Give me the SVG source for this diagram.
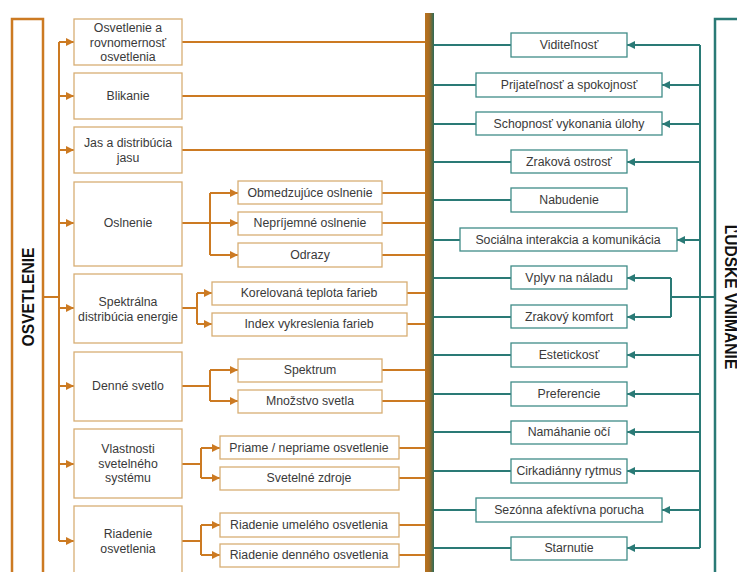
<svg xmlns="http://www.w3.org/2000/svg" width="737" height="572" viewBox="0 0 737 572">
<style>
text{font-family:"Liberation Sans",Arial,sans-serif;font-size:12.3px;fill:#3a3a3a;text-anchor:middle;dominant-baseline:central}
.ob{fill:#fff;stroke:#D8AE74;stroke-width:1.3}
.tb{fill:#fff;stroke:#3F8C88;stroke-width:1.3}
.oc{fill:none;stroke:#CC7A22;stroke-width:2}
.tc{fill:none;stroke:#2A7A76;stroke-width:2}
.oa{marker-end:url(#ao)}
.ta{marker-end:url(#at)}
.big{font-size:15.6px;font-weight:bold;fill:#111}
</style>
<defs>
<marker id="ao" markerUnits="userSpaceOnUse" markerWidth="9" markerHeight="10" refX="8" refY="5" orient="auto"><path d="M0,1 L8,5 L0,9 Z" fill="#CC7A22"/></marker>
<marker id="at" markerUnits="userSpaceOnUse" markerWidth="9" markerHeight="10" refX="8" refY="5" orient="auto"><path d="M0,1 L8,5 L0,9 Z" fill="#2A7A76"/></marker>
<linearGradient id="bar" x1="0" x2="1" y1="0" y2="0"><stop offset="0" stop-color="#B8721E"/><stop offset="0.45" stop-color="#A86C22"/><stop offset="1" stop-color="#2C6A58"/></linearGradient>
</defs>
<rect width="737" height="572" fill="#fff"/>
<g id="connectors">
<path class="oc" d="M43,297 H59 M59,42 V541"/>
<path class="oc oa" d="M59,42 H74"/>
<path class="oc oa" d="M59,96 H74"/>
<path class="oc oa" d="M59,150 H74"/>
<path class="oc oa" d="M59,223 H74"/>
<path class="oc oa" d="M59,308 H74"/>
<path class="oc oa" d="M59,386 H74"/>
<path class="oc oa" d="M59,464 H74"/>
<path class="oc oa" d="M59,541 H74"/>
<path class="oc" d="M182,42 H425 M182,96 H425 M182,150 H425"/>
<path class="oc" d="M182,223 H210 M210,193 V255"/>
<path class="oc oa" d="M210,193 H238"/>
<path class="oc oa" d="M210,223 H238"/>
<path class="oc oa" d="M210,255 H238"/>
<path class="oc" d="M382,193 H425 M382,223 H425 M382,255 H425"/>
<path class="oc" d="M182,308 H197 M197,293 V324"/>
<path class="oc oa" d="M197,293 H212"/>
<path class="oc oa" d="M197,324 H212"/>
<path class="oc" d="M407,293 H425 M407,324 H425"/>
<path class="oc" d="M182,386 H210 M210,370 V401"/>
<path class="oc oa" d="M210,370 H238"/>
<path class="oc oa" d="M210,401 H238"/>
<path class="oc" d="M382,370 H425 M382,401 H425"/>
<path class="oc" d="M182,464 H201 M201,448 V478"/>
<path class="oc oa" d="M201,448 H220"/>
<path class="oc oa" d="M201,478 H220"/>
<path class="oc" d="M399,448 H425 M399,478 H425"/>
<path class="oc" d="M182,541 H201 M201,525 V555"/>
<path class="oc oa" d="M201,525 H220"/>
<path class="oc oa" d="M201,555 H220"/>
<path class="oc" d="M399,525 H425 M399,555 H425"/>
<path class="tc" d="M434,45 H511 M434,85 H476 M434,124 H476 M434,162 H511 M434,200 H511 M434,240 H460 M434,278 H511 M434,317 H511 M434,355 H511 M434,394 H511 M434,432 H511 M434,471 H511 M434,510 H476 M434,548 H511"/>
<path class="tc" d="M715,297 H700 M700,45 V548"/>
<path class="tc ta" d="M700,45 H627"/>
<path class="tc ta" d="M700,85 H662"/>
<path class="tc ta" d="M700,124 H662"/>
<path class="tc ta" d="M700,162 H627"/>
<path class="tc ta" d="M700,240 H677"/>
<path class="tc" d="M700,297 H671 M671,278 V317"/>
<path class="tc ta" d="M671,278 H627"/>
<path class="tc ta" d="M671,317 H627"/>
<path class="tc ta" d="M700,355 H627"/>
<path class="tc ta" d="M700,394 H627"/>
<path class="tc ta" d="M700,432 H627"/>
<path class="tc ta" d="M700,471 H627"/>
<path class="tc ta" d="M700,510 H662"/>
<path class="tc ta" d="M700,548 H627"/>
</g>
<g id="bar"><rect x="425" y="13" width="9" height="560" fill="url(#bar)"/></g>
<g id="osvetlenie"><rect x="12" y="19" width="31" height="560" fill="#fff" stroke="#CC7A22" stroke-width="2.5"/><text class="big" transform="translate(28.5,297) rotate(-90)">OSVETLENIE</text></g>
<g id="ludske"><rect x="715" y="19" width="40" height="560" fill="#fff" stroke="#2A7A76" stroke-width="2.5"/><text class="big" transform="translate(730,297) rotate(90)">ĽUDSKE VNIMANIE</text></g>
<g id="n1"><rect class="ob" x="74" y="19" width="108" height="46"/><text x="128" y="28">Osvetlenie a</text><text x="128" y="43">rovnomernosť</text><text x="128" y="57">osvetlenia</text></g>
<g id="n2"><rect class="ob" x="74" y="73" width="108" height="46"/><text x="128" y="96">Blikanie</text></g>
<g id="n3"><rect class="ob" x="74" y="127" width="108" height="46"/><text x="128" y="143">Jas a distribúcia</text><text x="128" y="158">jasu</text></g>
<g id="n4"><rect class="ob" x="74" y="182" width="108" height="84"/><text x="128" y="223">Oslnenie</text></g>
<g id="n5"><rect class="ob" x="74" y="274" width="108" height="69"/><text x="128" y="302">Spektrálna</text><text x="128" y="317">distribúcia energie</text></g>
<g id="n6"><rect class="ob" x="74" y="352" width="108" height="69"/><text x="128" y="386">Denné svetlo</text></g>
<g id="n7"><rect class="ob" x="74" y="429" width="108" height="69"/><text x="128" y="449">Vlastnosti</text><text x="128" y="464">svetelného</text><text x="128" y="478">systému</text></g>
<g id="n8"><rect class="ob" x="74" y="506" width="108" height="72"/><text x="128" y="534">Riadenie</text><text x="128" y="549">osvetlenia</text></g>
<g id="s1"><rect class="ob" x="238" y="181" width="144" height="23"/><text x="310" y="193">Obmedzujúce oslnenie</text></g>
<g id="s2"><rect class="ob" x="238" y="212" width="144" height="23"/><text x="310" y="223">Nepríjemné oslnenie</text></g>
<g id="s3"><rect class="ob" x="238" y="243" width="144" height="24"/><text x="310" y="255">Odrazy</text></g>
<g id="s4"><rect class="ob" x="212" y="282" width="195" height="23"/><text x="309" y="293">Korelovaná teplota farieb</text></g>
<g id="s5"><rect class="ob" x="212" y="313" width="195" height="23"/><text x="309" y="324">Index vykreslenia farieb</text></g>
<g id="s6"><rect class="ob" x="238" y="359" width="144" height="23"/><text x="310" y="370">Spektrum</text></g>
<g id="s7"><rect class="ob" x="238" y="390" width="144" height="23"/><text x="310" y="401">Množstvo svetla</text></g>
<g id="s8"><rect class="ob" x="220" y="436" width="179" height="23"/><text x="309" y="448">Priame / nepriame osvetlenie</text></g>
<g id="s9"><rect class="ob" x="220" y="467" width="179" height="23"/><text x="309" y="478">Svetelné zdroje</text></g>
<g id="s10"><rect class="ob" x="220" y="513" width="179" height="24"/><text x="309" y="525">Riadenie umelého osvetlenia</text></g>
<g id="s11"><rect class="ob" x="220" y="544" width="179" height="23"/><text x="309" y="555">Riadenie denného osvetlenia</text></g>
<g id="r1"><rect class="tb" x="511" y="33" width="116" height="24"/><text x="569" y="45">Viditeľnosť</text></g>
<g id="r2"><rect class="tb" x="476" y="73" width="186" height="24"/><text x="569" y="85">Prijateľnosť a spokojnosť</text></g>
<g id="r3"><rect class="tb" x="476" y="112" width="186" height="23"/><text x="569" y="124">Schopnosť vykonania úlohy</text></g>
<g id="r4"><rect class="tb" x="511" y="150" width="116" height="23"/><text x="569" y="162">Zraková ostrosť</text></g>
<g id="r5"><rect class="tb" x="511" y="188" width="116" height="24"/><text x="569" y="200">Nabudenie</text></g>
<g id="r6"><rect class="tb" x="460" y="228" width="217" height="23"/><text x="568" y="240">Sociálna interakcia a komunikácia</text></g>
<g id="r7"><rect class="tb" x="511" y="266" width="116" height="23"/><text x="569" y="278">Vplyv na náladu</text></g>
<g id="r8"><rect class="tb" x="511" y="305" width="116" height="23"/><text x="569" y="317">Zrakový komfort</text></g>
<g id="r9"><rect class="tb" x="511" y="343" width="116" height="24"/><text x="569" y="355">Estetickosť</text></g>
<g id="r10"><rect class="tb" x="511" y="382" width="116" height="24"/><text x="569" y="394">Preferencie</text></g>
<g id="r11"><rect class="tb" x="511" y="421" width="116" height="23"/><text x="569" y="432">Namáhanie očí</text></g>
<g id="r12"><rect class="tb" x="511" y="459" width="116" height="24"/><text x="569" y="471">Cirkadiánny rytmus</text></g>
<g id="r13"><rect class="tb" x="476" y="498" width="186" height="24"/><text x="569" y="510">Sezónna afektívna porucha</text></g>
<g id="r14"><rect class="tb" x="511" y="537" width="116" height="23"/><text x="569" y="548">Starnutie</text></g>
</svg>
